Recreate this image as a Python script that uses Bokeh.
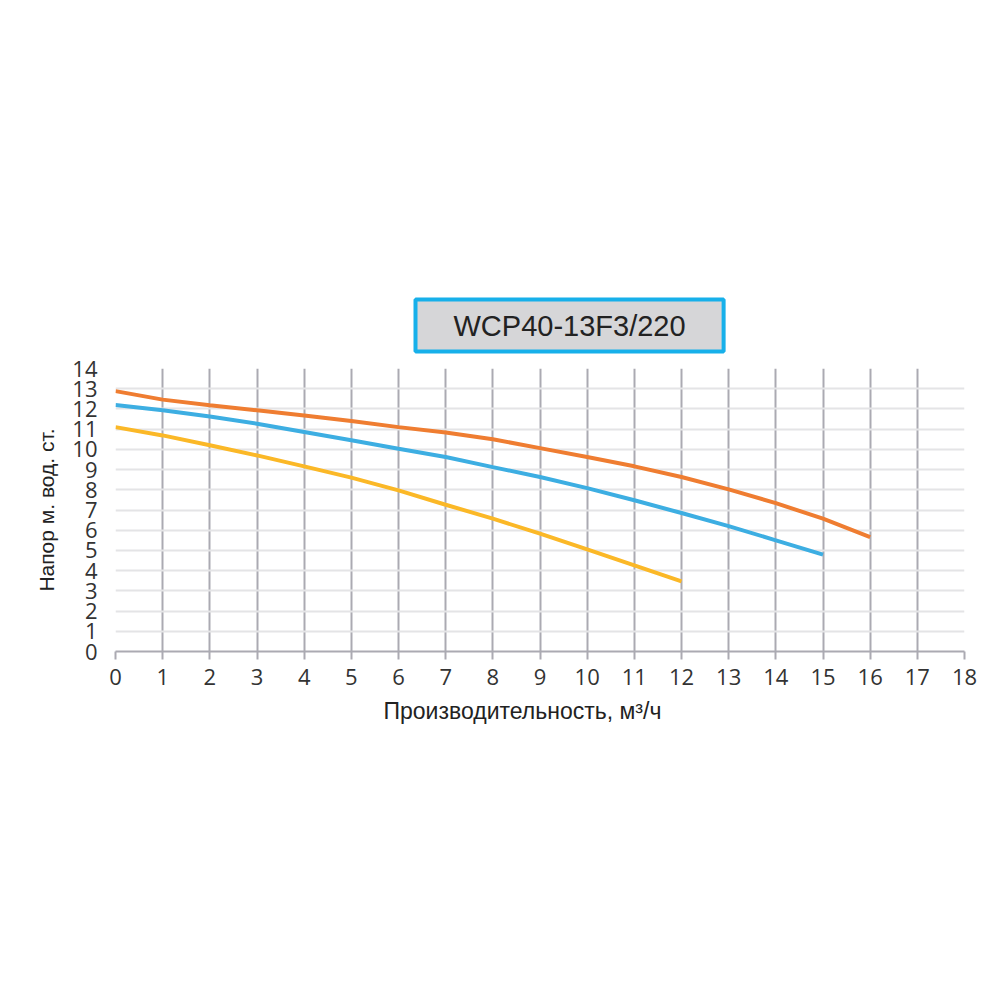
from bokeh.plotting import figure
from bokeh.models import FixedTicker, Title
from bokeh.embed import file_html
from bokeh.resources import INLINE

# ---- data ----
title_text = "WCP40-13F3/220"
x_label = "Производительность, м³/ч"
y_label = "Напор м. вод. ст."

x_ticks = list(range(0, 19))
y_ticks = list(range(0, 15))

q_orange = [0, 1, 2, 3, 4, 5, 6, 7, 8, 9, 10, 11, 12, 13, 14, 15, 16]
h_orange = [12.88, 12.46, 12.18, 11.93, 11.67, 11.40, 11.10, 10.83, 10.50, 10.06, 9.62, 9.16, 8.63, 8.02, 7.34, 6.57, 5.66]

q_blue = [0, 1, 2, 3, 4, 5, 6, 7, 8, 9, 10, 11, 12, 13, 14, 15]
h_blue = [12.19, 11.93, 11.63, 11.27, 10.86, 10.45, 10.03, 9.62, 9.12, 8.63, 8.08, 7.48, 6.85, 6.20, 5.50, 4.79]

q_yellow = [0, 1, 2, 3, 4, 5, 6, 7, 8, 9, 10, 11, 12]
h_yellow = [11.10, 10.69, 10.20, 9.70, 9.16, 8.60, 7.97, 7.26, 6.57, 5.83, 5.05, 4.26, 3.47]

# ---- figure ----
p = figure(width=992, height=748, x_range=(0, 18), y_range=(0, 14),
           output_backend="svg", toolbar_location=None,
           min_border_left=115, min_border_right=28,
           min_border_top=368, min_border_bottom=97)
p.outline_line_color = None
p.background_fill_color = "white"
p.border_fill_color = "white"

tick_font = "Open Sans"
for ax in p.xaxis:
    ax.ticker = FixedTicker(ticks=x_ticks)
    ax.axis_line_color = "#abaab2"
    ax.axis_line_width = 2
    ax.major_tick_line_color = "#abaab2"
    ax.major_tick_line_width = 2
    ax.major_tick_out = 8
    ax.major_tick_in = 0
    ax.minor_tick_line_color = None
    ax.major_label_text_font = tick_font
    ax.major_label_text_font_size = "22px"
    ax.major_label_text_color = "#333333"
    ax.major_label_standoff = 9

for ax in p.yaxis:
    ax.ticker = FixedTicker(ticks=y_ticks)
    ax.axis_line_color = None
    ax.major_tick_line_color = None
    ax.minor_tick_line_color = None
    ax.major_label_text_font = tick_font
    ax.major_label_text_font_size = "22px"
    ax.major_label_text_color = "#333333"
    ax.major_label_standoff = 12
    ax.axis_label = y_label
    ax.axis_label_text_font = "Liberation Sans"
    ax.axis_label_text_font_size = "21px"
    ax.axis_label_text_font_style = "normal"
    ax.axis_label_text_color = "#222222"
    ax.axis_label_standoff = 11

p.xgrid.ticker = FixedTicker(ticks=x_ticks)
p.xgrid.grid_line_color = "#abaab2"
p.xgrid.grid_line_width = 2
p.ygrid.ticker = FixedTicker(ticks=y_ticks)
p.ygrid.grid_line_color = "#e4e4e6"
p.ygrid.grid_line_width = 2

p.line(q_orange, h_orange, line_color="#ef7d31", line_width=4)
p.line(q_blue, h_blue, line_color="#3daee2", line_width=4)
p.line(q_yellow, h_yellow, line_color="#fbb827", line_width=4)

# x-axis title (placed as a below title to match its off-centre position)
p.add_layout(Title(text=x_label, align="left", offset=268, standoff=16,
                   text_font="Liberation Sans", text_font_size="23px",
                   text_font_style="normal", text_color="#222222"), "below")

# boxed chart title
p.add_layout(Title(text=title_text, align="left", offset=300, standoff=34,
                   text_font="Liberation Sans", text_font_size="29px",
                   text_font_style="normal", text_color="#222222",
                   background_fill_color="#d6d6d8", border_line_color="#17b0ea",
                   border_line_width=4, padding=(38, 10)), "above")

open("out.html", "w").write(file_html(p, INLINE))
